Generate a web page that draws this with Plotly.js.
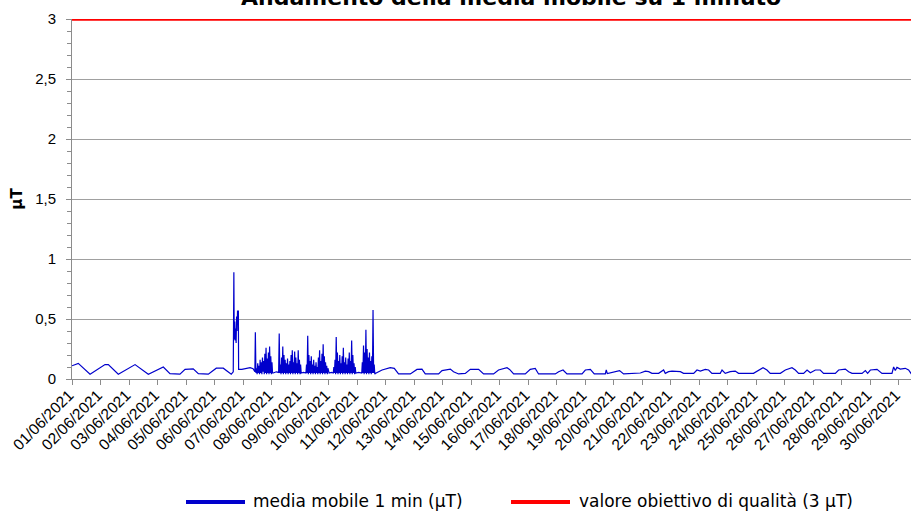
<!DOCTYPE html>
<html>
<head>
<meta charset="utf-8">
<script src="https://cdn.plot.ly/plotly-3.0.1.min.js"></script>
<style>
html,body{margin:0;padding:0;background:#fff;overflow:hidden;}
#wrap{width:911px;height:511px;overflow:hidden;position:relative;}
#chart{width:930px;height:511px;}
</style>
</head>
<body>
<div id="wrap"><div id="chart"></div></div>
<script>
// ---- data (hours from 01/06/2021 00:00, value in µT) ----
const startDate = Date.UTC(2021, 5, 1);
const baseHours = [0,5.3,15.2,27.8,30.6,39.0,53.1,64.3,76.9,82.5,90.9,95.2,102.1,106.4,114.8,121.5,127.4,134.1,
  135.8,136.1,136.3,136.6,137.0,137.4,137.8,138.2,138.6,139.0,139.4,139.8,140.1,140.3,143,147,150,152.5,154,
  169.5,172,174,193,195,197,216.5,218.5,220,239,241.5,244,
  255.4,261.1,268.0,271.4,275.0,284.9,290.5,294.7,297.5,308.7,311.6,318.6,321.3,325.6,331.2,335.4,342.4,346.6,
  355.0,359.2,366.3,368.5,371.9,381.7,385.9,390.1,392.9,407.0,409.8,413.5,416.8,429.5,432.3,436.5,439.8,449.1,
  449.9,450.8,457.5,461.1,464.5,475.8,478.6,482.8,485.6,488.4,494.0,498.2,499.6,502.4,505.3,512.3,515.0,523.5,
  526.3,529.1,533.3,536.1,538.9,545.9,547.4,550.1,554.3,558.5,561.3,573.9,578.1,581.9,585.2,588.0,596.5,600.7,
  606.3,609.1,611.9,616.1,619.0,621.8,626.0,630.1,632.9,642.8,645.6,651.2,654.0,656.9,665.3,668.1,670.0,672.3,
  677.9,680.7,682.1,690.5,691.9,693.3,694.7,697.5,701.7,704.5,707.4,714.4,720];
const baseValues = [0.11,0.13,0.04,0.12,0.12,0.04,0.12,0.04,0.10,0.045,0.04,0.08,0.085,0.045,0.04,0.09,0.09,0.04,
  0.06,0.80,0.89,0.33,0.48,0.32,0.42,0.30,0.52,0.40,0.57,0.45,0.57,0.08,0.08,0.09,0.095,0.085,0.06,
  0.05,0.06,0.055,0.05,0.055,0.05,0.05,0.055,0.05,0.05,0.055,0.05,
  0.047,0.075,0.094,0.089,0.042,0.042,0.08,0.083,0.042,0.042,0.07,0.083,0.061,0.042,0.047,0.08,0.08,0.042,
  0.042,0.075,0.094,0.08,0.042,0.042,0.08,0.089,0.042,0.042,0.061,0.075,0.042,0.042,0.075,0.08,0.042,0.042,
  0.075,0.045,0.061,0.07,0.042,0.047,0.05,0.066,0.061,0.047,0.047,0.075,0.047,0.061,0.066,0.061,0.047,0.047,
  0.075,0.066,0.08,0.075,0.047,0.047,0.075,0.047,0.061,0.066,0.047,0.047,0.075,0.094,0.075,0.047,0.047,0.075,
  0.094,0.075,0.047,0.047,0.075,0.052,0.075,0.075,0.047,0.047,0.075,0.083,0.061,0.047,0.047,0.07,0.047,0.075,
  0.08,0.061,0.047,0.047,0.10,0.07,0.097,0.083,0.089,0.075,0.035,0.04,0.045];

// daytime noisy bursts, sampled every 30 minutes
const burstStartHours = [154.4, 174.5, 197.5, 220.5, 244.5];
const burst1 = [0.39,0.05,0.09,0.04,0.13,0.05,0.11,0.04,0.16,0.05,0.14,0.04,0.18,0.06,0.15,0.04,0.21,0.05,0.26,0.04,0.17,0.05,0.22,0.04,0.27,0.05,0.19,0.04,0.14,0.05];
const burst2 = [0.38,0.05,0.12,0.04,0.18,0.05,0.27,0.04,0.20,0.05,0.16,0.04,0.13,0.05,0.17,0.04,0.12,0.05,0.15,0.04,0.20,0.05,0.24,0.04,0.14,0.05,0.23,0.04,0.18,0.05,0.13,0.04,0.24,0.05,0.16,0.04,0.12];
const burst3 = [0.12,0.05,0.36,0.04,0.20,0.05,0.15,0.04,0.19,0.05,0.12,0.04,0.16,0.05,0.11,0.04,0.14,0.05,0.10,0.04,0.18,0.05,0.24,0.04,0.15,0.05,0.21,0.04,0.29,0.05,0.19,0.04,0.14,0.05,0.11,0.04,0.09];
const burst4 = [0.10,0.05,0.16,0.04,0.35,0.05,0.22,0.04,0.15,0.05,0.20,0.04,0.13,0.05,0.19,0.04,0.26,0.05,0.14,0.04,0.18,0.05,0.12,0.04,0.17,0.05,0.22,0.04,0.15,0.05,0.32,0.04,0.20,0.05,0.13,0.04,0.10];
const burst5 = [0.14,0.05,0.28,0.04,0.22,0.05,0.41,0.04,0.25,0.05,0.18,0.04,0.22,0.05,0.15,0.04,0.19,0.05,0.575,0.05,0.12,0.04];
const bursts = [burst1, burst2, burst3, burst4, burst5];
const burstStep = 0.5;

const refDates = ['2021-06-01', '2021-07-01'];
const refValues = [3, 3];

const tickLabels = ['01/06/2021','02/06/2021','03/06/2021','04/06/2021','05/06/2021','06/06/2021','07/06/2021',
  '08/06/2021','09/06/2021','10/06/2021','11/06/2021','12/06/2021','13/06/2021','14/06/2021','15/06/2021',
  '16/06/2021','17/06/2021','18/06/2021','19/06/2021','20/06/2021','21/06/2021','22/06/2021','23/06/2021',
  '24/06/2021','25/06/2021','26/06/2021','27/06/2021','28/06/2021','29/06/2021','30/06/2021'];

const seriesName = 'media mobile 1 min (µT)';
const refName = 'valore obiettivo di qualità (3 µT)';
const titleText = 'Andamento della media mobile su 1 minuto';

// ---- build series ----
let pts = baseHours.map((h, i) => [h, baseValues[i]]);
bursts.forEach((b, k) => b.forEach((v, i) => pts.push([burstStartHours[k] + i * burstStep, v])));
pts.sort((a, b) => a[0] - b[0]);
const xs = pts.map(p => startDate + p[0] * 3600000);
const ys = pts.map(p => p[1]);
const tickVals = tickLabels.map((_, i) => startDate + i * 86400000);

const plotL = 72, plotT = 19, plotW = 855, plotH = 360;
const py = pix => (plotT + plotH - pix) / plotH;
const px = pix => (pix - plotL) / plotW;

const traces = [
  {x: xs, y: ys, type: 'scatter', mode: 'lines', name: seriesName,
   line: {color: '#0000cc', width: 1.2}, showlegend: false, hoverinfo: 'skip'},
  {x: refDates, y: refValues, type: 'scatter', mode: 'lines', name: refName,
   line: {color: '#ff0000', width: 3.5}, showlegend: false, cliponaxis: false}
];

const legendFont = {family: 'DejaVu Sans, sans-serif', size: 17, color: '#000'};
const layout = {
  width: 930, height: 511,
  margin: {l: plotL, r: 930 - plotL - plotW, t: plotT, b: 511 - plotT - plotH, pad: 0},
  paper_bgcolor: '#fff', plot_bgcolor: '#fff',
  separators: ', ',
  showlegend: false,
  font: {family: 'Liberation Sans, Arial, sans-serif', size: 15, color: '#000'},
  xaxis: {
    type: 'date', range: [startDate, startDate + 30 * 86400000],
    tickmode: 'array', tickvals: tickVals, ticktext: tickLabels, tickangle: -45,
    ticks: 'outside', ticklen: 5, tickcolor: '#8c8c8c', ticklabelstandoff: -5, ticklabelshift: -3,
    showgrid: false, zeroline: false, showline: true, linecolor: '#8c8c8c', linewidth: 1,
    tickfont: {family: 'Liberation Sans, Arial, sans-serif', size: 15.5, color: '#000'}
  },
  yaxis: {
    range: [0, 3], tickmode: 'linear', tick0: 0, dtick: 0.5,
    ticks: 'outside', ticklen: 5, tickcolor: '#8c8c8c', ticklabelstandoff: 7,
    showgrid: true, gridcolor: '#a0a0a0', gridwidth: 1, zeroline: false,
    showline: true, linecolor: '#8c8c8c', linewidth: 1,
    tickfont: {family: 'Liberation Sans, Arial, sans-serif', size: 15, color: '#000'},
    minor: {dtick: 0.1, ticks: 'outside', ticklen: 4, tickcolor: '#8c8c8c', showgrid: false},
    title: {text: 'µT', font: {family: 'DejaVu Sans, sans-serif', size: 15, weight: 'bold', color: '#000'}, standoff: 8}
  },
  shapes: [
    {type: 'line', xref: 'paper', yref: 'paper', x0: px(186), x1: px(245), y0: py(502), y1: py(502), line: {color: '#0000cc', width: 4}},
    {type: 'line', xref: 'paper', yref: 'paper', x0: px(511), x1: px(570), y0: py(502), y1: py(502), line: {color: '#ff0000', width: 4}}
  ],
  annotations: [
    {text: '<b>' + titleText + '</b>', xref: 'paper', yref: 'paper', x: px(511), y: py(-3), xanchor: 'center', yanchor: 'middle', showarrow: false,
     font: {family: 'DejaVu Sans, sans-serif', size: 22, color: '#000'}},
    {text: seriesName, xref: 'paper', yref: 'paper', x: px(251), y: py(501), xanchor: 'left', yanchor: 'middle', showarrow: false, font: legendFont},
    {text: refName, xref: 'paper', yref: 'paper', x: px(577), y: py(501), xanchor: 'left', yanchor: 'middle', showarrow: false, font: legendFont}
  ]
};

Plotly.newPlot('chart', traces, layout, {staticPlot: true, displayModeBar: false});
</script>
</body>
</html>
